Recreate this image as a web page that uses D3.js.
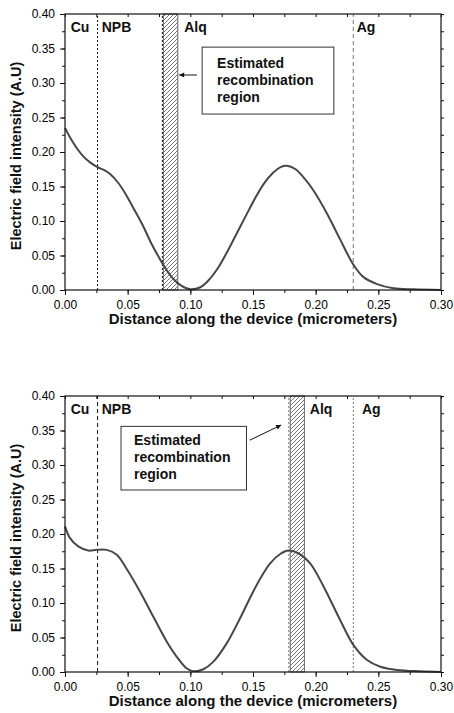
<!DOCTYPE html>
<html>
<head>
<meta charset="utf-8">
<script src="https://cdn.jsdelivr.net/npm/d3@7"></script>
<style>
  body { margin: 0; background: #fff; }
  svg { display: block; font-family: "Liberation Sans", Arial, sans-serif; }
</style>
</head>
<body>
<svg id="chart" width="454" height="713"></svg>
<script>
// upper panel: field profile, recombination at the NPB/Alq interface
const distA = [0, 0.005, 0.010, 0.015, 0.020, 0.026, 0.031, 0.036, 0.043, 0.049, 0.056, 0.0625, 0.069, 0.076, 0.081, 0.0865, 0.093, 0.100, 0.108, 0.114, 0.121, 0.129, 0.137, 0.145, 0.152, 0.159, 0.166, 0.172, 0.177, 0.184, 0.190, 0.198, 0.209, 0.2196, 0.230, 0.238, 0.249, 0.262, 0.278, 0.300];
const fieldA = [0.235, 0.218, 0.204, 0.193, 0.185, 0.178, 0.174, 0.168, 0.154, 0.137, 0.114, 0.092, 0.067, 0.044, 0.029, 0.016, 0.006, 0.001, 0.004, 0.013, 0.029, 0.054, 0.082, 0.110, 0.134, 0.155, 0.170, 0.178, 0.180, 0.175, 0.164, 0.145, 0.111, 0.073, 0.037, 0.019, 0.0085, 0.0025, 0.001, 0];

// lower panel: recombination inside Alq
const distB = [0, 0.004, 0.0106, 0.0186, 0.0253, 0.0333, 0.0413, 0.049, 0.060, 0.0705, 0.0812, 0.0892, 0.0972, 0.1025, 0.1104, 0.1184, 0.129, 0.140, 0.150, 0.157, 0.1637, 0.1717, 0.1783, 0.1863, 0.1956, 0.2063, 0.2196, 0.2302, 0.241, 0.2516, 0.265, 0.2835, 0.300];
const fieldB = [0.211, 0.194, 0.182, 0.176, 0.177, 0.177, 0.170, 0.150, 0.116, 0.080, 0.044, 0.022, 0.005, 0.001, 0.004, 0.015, 0.0415, 0.079, 0.116, 0.139, 0.1575, 0.171, 0.176, 0.172, 0.1575, 0.124, 0.075, 0.039, 0.0174, 0.0077, 0.003, 0.001, 0];

const xTickVals = [0, 0.05, 0.10, 0.15, 0.20, 0.25, 0.30];
const yTickVals = [0, 0.05, 0.10, 0.15, 0.20, 0.25, 0.30, 0.35, 0.40];

const layerNames = ["Cu", "NPB", "Alq", "Ag"];
const layerLabelXA = [0.0045, 0.0293, 0.0951, 0.2327];
const layerLabelXB = [0.0045, 0.0293, 0.1953, 0.2369];

const boundariesA = [0.026, 0.0777, 0.23];
const boundariesB = [0.026, 0.1786, 0.23];

const recombA = [0.0785, 0.090];
const recombB = [0.1797, 0.191];

const noteLines = ["Estimated", "recombination", "region"];

const svg = d3.select("#chart");

// hatch for the recombination band
svg.append("defs").append("pattern")
  .attr("id", "hatch")
  .attr("patternUnits", "userSpaceOnUse")
  .attr("width", 4).attr("height", 4)
  .append("path")
  .attr("d", "M-1,1 l2,-2 M0,4 l4,-4 M3,5 l2,-2")
  .attr("stroke", "#555").attr("stroke-width", 0.8);

svg.select("defs").append("marker")
  .attr("id", "arrow")
  .attr("viewBox", "0 0 10 10")
  .attr("refX", 10).attr("refY", 5)
  .attr("markerWidth", 7).attr("markerHeight", 5)
  .attr("markerUnits", "userSpaceOnUse")
  .attr("orient", "auto")
  .append("path").attr("d", "M0,0 L10,5 L0,10 z").attr("fill", "#111");

const x = d3.scaleLinear().domain([0, 0.30]).range([65, 441]);

const panels = [
  {
    top: 14, bottom: 290, dist: distA, field: fieldA,
    labelX: layerLabelXA, bounds: boundariesA, band: recombA,
    dash: ["2,2", "2,2", "4,3"], lineColor: ["#111", "#111", "#777"],
    box: { x0: 0.1094, x1: 0.2145, y0: 0.352, y1: 0.255, pad: 15, first: 21, step: 17 },
    arrow: [[0.1052, 0.3116], [0.0911, 0.3116]]
  },
  {
    top: 396, bottom: 672, dist: distB, field: fieldB,
    labelX: layerLabelXB, bounds: boundariesB, band: recombB,
    dash: ["4,3", "2,2", "2,2"], lineColor: ["#111", "#777", "#777"],
    box: { x0: 0.0447, x1: 0.1448, y0: 0.356, y1: 0.2638, pad: 13, first: 19, step: 17 },
    arrow: [[0.1475, 0.336], [0.1725, 0.358]]
  }
];

panels.forEach(p => {
  const y = d3.scaleLinear().domain([0, 0.40]).range([p.bottom, p.top]);
  const g = svg.append("g");

  // recombination band
  g.append("rect")
    .attr("x", x(p.band[0]))
    .attr("y", y(0.40))
    .attr("width", x(p.band[1]) - x(p.band[0]))
    .attr("height", y(0) - y(0.40))
    .attr("fill", "url(#hatch)")
    .attr("stroke", "#666").attr("stroke-width", 1);

  // layer boundaries
  g.selectAll("line.bound")
    .data(p.bounds)
    .join("line")
    .attr("class", "bound")
    .attr("x1", d => x(d)).attr("x2", d => x(d))
    .attr("y1", y(0)).attr("y2", y(0.40))
    .attr("stroke", (d, i) => p.lineColor[i])
    .attr("stroke-width", 1)
    .attr("stroke-dasharray", (d, i) => p.dash[i]);

  // field curve
  const pts = p.dist.map((d, i) => [d, p.field[i]]);
  g.append("path")
    .datum(pts)
    .attr("fill", "none")
    .attr("stroke", "#474747")
    .attr("stroke-width", 2)
    .attr("d", d3.line().x(d => x(d[0])).y(d => y(Math.max(0, d[1]))).curve(d3.curveCatmullRom.alpha(0.5)));

  // axes
  const xMinor = d3.range(0, 0.3001, 0.025);
  const yMinor = d3.range(0, 0.4001, 0.025);

  g.append("g")
    .attr("transform", `translate(0,${p.bottom})`)
    .call(d3.axisBottom(x).tickValues(xMinor).tickSize(3).tickFormat(""));
  g.append("g")
    .attr("transform", `translate(0,${p.bottom})`)
    .call(d3.axisBottom(x).tickValues(xTickVals).tickSize(5).tickPadding(5).tickFormat(d3.format(".2f")))
    .call(a => a.selectAll("text").attr("font-size", 12).attr("font-family", null));

  g.append("g")
    .attr("transform", `translate(65,0)`)
    .call(d3.axisLeft(y).tickValues(yMinor).tickSize(3).tickFormat(""));
  g.append("g")
    .attr("transform", `translate(65,0)`)
    .call(d3.axisLeft(y).tickValues(yTickVals).tickSize(5).tickPadding(5).tickFormat(d3.format(".2f")))
    .call(a => a.selectAll("text").attr("font-size", 12).attr("font-family", null));

  // mirrored top / right ticks
  g.append("g")
    .attr("transform", `translate(0,${p.top})`)
    .call(d3.axisBottom(x).tickValues(xMinor).tickSize(3).tickFormat(""));
  g.append("g")
    .attr("transform", `translate(441,0)`)
    .call(d3.axisRight(y).tickValues(yMinor).tickSize(3).tickFormat(""));

  g.selectAll(".domain").remove();
  g.selectAll(".tick line").attr("stroke", "#111");

  // frame
  g.append("rect")
    .attr("x", 65).attr("y", p.top)
    .attr("width", 441 - 65).attr("height", p.bottom - p.top)
    .attr("fill", "none").attr("stroke", "#111").attr("stroke-width", 1.2);

  // layer names
  g.selectAll("text.layer")
    .data(layerNames)
    .join("text")
    .attr("class", "layer")
    .attr("x", (d, i) => x(p.labelX[i]))
    .attr("y", p.top + 18)
    .attr("font-size", 14).attr("font-weight", "bold").attr("fill", "#111")
    .text(d => d);

  // annotation box
  const b = p.box;
  g.append("rect")
    .attr("x", x(b.x0)).attr("y", y(b.y0))
    .attr("width", x(b.x1) - x(b.x0)).attr("height", y(b.y1) - y(b.y0))
    .attr("fill", "#fff").attr("stroke", "#333").attr("stroke-width", 1);
  g.selectAll("text.note")
    .data(noteLines)
    .join("text")
    .attr("class", "note")
    .attr("x", x(b.x0) + b.pad)
    .attr("y", (d, i) => y(b.y0) + b.first + i * b.step)
    .attr("font-size", 14).attr("font-weight", "bold").attr("fill", "#111")
    .text(d => d);

  g.append("line")
    .attr("x1", x(p.arrow[0][0])).attr("y1", y(p.arrow[0][1]))
    .attr("x2", x(p.arrow[1][0])).attr("y2", y(p.arrow[1][1]))
    .attr("stroke", "#111").attr("stroke-width", 1)
    .attr("marker-end", "url(#arrow)");

  // axis titles
  g.append("text")
    .attr("transform", `translate(20.5,${(p.top + p.bottom) / 2 + 4}) rotate(-90)`)
    .attr("text-anchor", "middle")
    .attr("font-size", 14.5).attr("font-weight", "bold").attr("fill", "#111")
    .text("Electric field intensity (A.U)");

  g.append("text")
    .attr("x", (65 + 441) / 2)
    .attr("y", p.bottom + 34)
    .attr("text-anchor", "middle")
    .attr("font-size", 15).attr("font-weight", "bold").attr("fill", "#111")
    .text("Distance along the device (micrometers)");
});
</script>
</body>
</html>
